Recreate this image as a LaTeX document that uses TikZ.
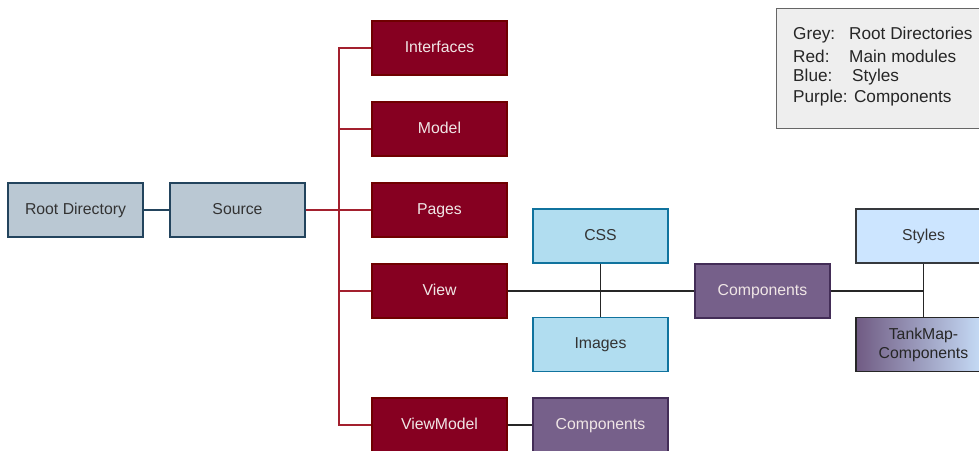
\documentclass[tikz,border=0pt]{standalone}
\usepackage{fontspec}
\setmainfont{Liberation Sans}
\definecolor{greyfill}{HTML}{BAC8D3}
\definecolor{greydraw}{HTML}{23445D}
\definecolor{redfill}{HTML}{860021}
\definecolor{reddraw}{HTML}{6F0000}
\definecolor{redline}{HTML}{A3202E}
\definecolor{bluefill}{HTML}{B1DDF0}
\definecolor{bluedraw}{HTML}{10739E}
\definecolor{purpfill}{HTML}{76608A}
\definecolor{purpdraw}{HTML}{432D57}
\definecolor{stylefill}{HTML}{CCE5FF}
\definecolor{styledraw}{HTML}{36393D}
\definecolor{legfill}{HTML}{EEEEEE}
\definecolor{legdraw}{HTML}{666666}
\definecolor{darktext}{HTML}{333333}
\definecolor{lighttext}{HTML}{F0E6E6}
\begin{document}
\begin{tikzpicture}[x=1pt,y=-1pt,
  every node/.style={font=\fontsize{15.8}{19}\selectfont},
  box/.style={rectangle, minimum width=135pt, minimum height=54pt, inner sep=0pt, line width=1.2pt, align=center},
  onelabel/.style={box, text height=11.5pt, text depth=3.5pt},
  greybox/.style={onelabel, fill=greyfill, draw=greydraw, text=darktext},
  redbox/.style={onelabel, fill=redfill, draw=reddraw, text=lighttext},
  bluebox/.style={onelabel, fill=bluefill, draw=bluedraw, text=darktext},
  purpbox/.style={onelabel, fill=purpfill, draw=purpdraw, text=lighttext},
  stylebox/.style={onelabel, fill=stylefill, draw=styledraw, text=darktext},
  gradbox/.style={box, left color=purpfill!95!black, right color=stylefill, draw=black!85, text=black!85},
  redconn/.style={draw=redline, line width=1.3pt},
  blackconn/.style={draw=black!85, line width=1.3pt},
  greyconn/.style={draw=greydraw, line width=1.3pt},
  legline/.style={anchor=west, inner sep=0pt, text=black!85, font=\fontsize{17.2}{21}\selectfont}
]
\useasboundingbox (0,0) rectangle (979,450);
\clip (0,0) rectangle (979,450);

% legend
\node[draw=legdraw, fill=legfill, line width=1.2pt, minimum width=202.5pt, minimum height=120pt, inner sep=0pt, anchor=north west] (legend) at (776,8) {};
\node[legline] (lg1) at (793,35) {\makebox[56pt][l]{Grey:}Root Directories};
\node[legline] (lg2) at (793,56.5) {\makebox[56pt][l]{Red:}Main modules};
\node[legline] (lg3) at (793,77) {\makebox[59pt][l]{Blue:}Styles};
\node[legline] (lg4) at (793,98.5) {Purple: Components};

% nodes
\node[greybox] (root) at (75.5,210) {Root Directory};
\node[greybox] (src) at (237.5,210) {Source};

\node[redbox] (iface) at (439.5,48) {Interfaces};
\node[redbox] (model) at (439.5,129) {Model};
\node[redbox] (pages) at (439.5,210) {Pages};
\node[redbox] (view) at (439.5,291) {View};
\node[redbox] (vm) at (439.5,425) {ViewModel};

\node[bluebox] (css) at (600.5,236) {CSS};
\node[bluebox] (img) at (600.5,344.5) {Images};

\node[purpbox] (comp) at (762.5,291) {Components};
\node[purpbox] (comp2) at (600.5,425) {Components};

\node[stylebox] (styles) at (923.5,236) {Styles};
\node[gradbox] (tank) at (923.5,344.5) {TankMap-\\Components};

% connectors
\draw[greyconn] (root.east) -- (src.west);
\coordinate (trunk) at (339,210);
\draw[redconn] (src.east) -- (trunk);
\draw[redconn] (trunk) |- (iface.west);
\draw[redconn] (trunk) |- (model.west);
\draw[redconn] (trunk) -- (pages.west);
\draw[redconn] (trunk) |- (view.west);
\draw[redconn] (trunk) |- (vm.west);

\draw[blackconn] (view.east) -- (comp.west);
\draw[blackconn] (css.south) -- (img.north);
\draw[blackconn] (comp.east) -| (styles.south);
\draw[blackconn] (styles.south) -- (tank.north);
\draw[blackconn] (vm.east) -- (comp2.west);
\end{tikzpicture}
\end{document}
